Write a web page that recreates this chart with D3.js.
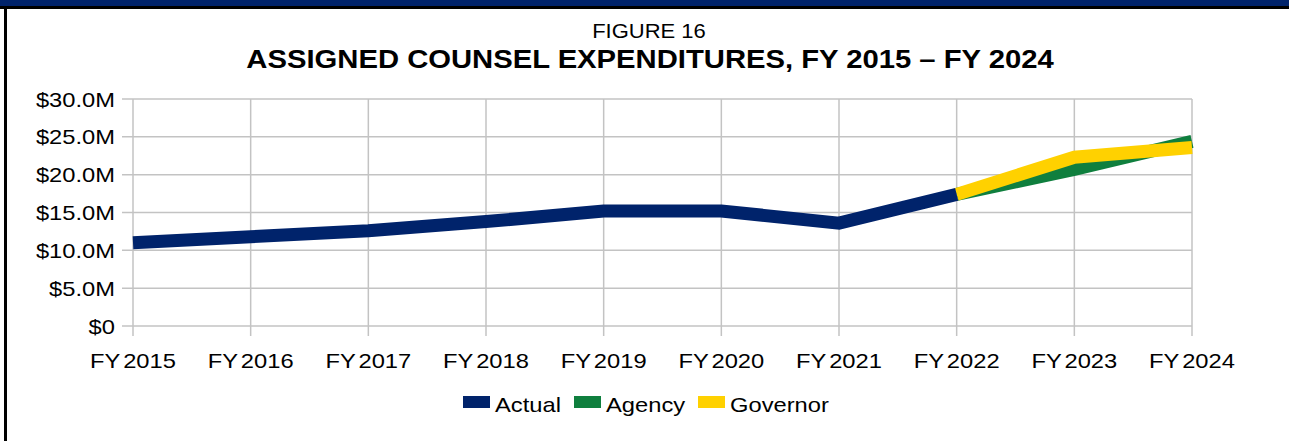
<!DOCTYPE html>
<html>
<head>
<meta charset="utf-8">
<script src="https://cdn.jsdelivr.net/npm/d3@7"></script>
<style>
    body { margin: 0; background: #fff; }
    svg { display: block; font-family: "Liberation Sans", Arial, sans-serif; }
</style>
</head>
<body>
<svg id="chart"></svg>
<script>
// data ($ millions)
var years = ["FY 2015", "FY 2016", "FY 2017", "FY 2018", "FY 2019", "FY 2020", "FY 2021", "FY 2022", "FY 2023", "FY 2024"];
var actual = [11.0, 11.8, 12.6, 13.8, 15.2, 15.2, 13.6, 17.4, null, null];
var agency = [null, null, null, null, null, null, null, 17.4, 20.7, 24.4];
var governor = [null, null, null, null, null, null, null, 17.4, 22.3, 23.6];
var yTicks = [0, 5, 10, 15, 20, 25, 30];
var yTickLabels = ["$0", "$5.0M", "$10.0M", "$15.0M", "$20.0M", "$25.0M", "$30.0M"];

var seriesList = [
    { name: "Actual", values: actual, color: "#00236b" },
    { name: "Agency", values: agency, color: "#0f7f3e" },
    { name: "Governor", values: governor, color: "#ffd100" }
];

const width = 1289;
const height = 441;
const sx = 1.13; // text in the original is a bit wider than Arial

const svg = d3.select("#chart")
    .attr("width", width)
    .attr("height", height);

// frame: navy band on top, black rule, left border
svg.append("rect").attr("x", 0).attr("y", 0).attr("width", width).attr("height", 6).attr("fill", "#00236b");
svg.append("rect").attr("x", 0).attr("y", 6).attr("width", width).attr("height", 3).attr("fill", "#000");
svg.append("rect").attr("x", 4).attr("y", 6).attr("width", 3).attr("height", height - 6).attr("fill", "#000");

function stretched(g, px, py, scale) {
    return g.append("text").attr("transform", `translate(${px},${py}) scale(${scale},1)`);
}

// titles
stretched(svg, 649, 38, 1.1)
    .attr("text-anchor", "middle")
    .style("font-size", "20px")
    .text("FIGURE 16");
stretched(svg, 650, 68, 1.17)
    .attr("text-anchor", "middle")
    .style("font-size", "25px")
    .style("font-weight", "bold")
    .text("ASSIGNED COUNSEL EXPENDITURES, FY 2015 \u2013 FY 2024");

const x = d3.scalePoint().domain(years).range([133, 1192]);
const y = d3.scaleLinear().domain([0, 30]).range([326, 99]);

const grid = svg.append("g").attr("stroke", "#c3c3c3").attr("stroke-width", 1.5);

// horizontal gridlines + left ticks
grid.selectAll(".hg")
    .data(yTicks)
    .join("line")
    .attr("x1", 122).attr("x2", 1192)
    .attr("y1", d => y(d)).attr("y2", d => y(d));

// vertical gridlines + bottom ticks
grid.selectAll(".vg")
    .data(years)
    .join("line")
    .attr("x1", d => x(d)).attr("x2", d => x(d))
    .attr("y1", y(30)).attr("y2", 336);

// y labels
svg.append("g")
    .selectAll("text")
    .data(yTicks)
    .join("text")
    .attr("transform", d => `translate(115,${y(d)}) scale(${sx},1)`)
    .attr("dy", "0.36em")
    .attr("text-anchor", "end")
    .style("font-size", "21px")
    .text((d, i) => yTickLabels[i]);

// x labels
svg.append("g")
    .selectAll("text")
    .data(years)
    .join("text")
    .attr("transform", d => `translate(${x(d)},368) scale(${sx},1)`)
    .attr("text-anchor", "middle")
    .style("font-size", "21px")
    .style("word-spacing", "-3px")
    .text(d => d);

const line = d3.line()
    .defined(d => d.v != null)
    .x(d => x(d.year))
    .y(d => y(d.v));

// agency drawn under governor, actual last
[seriesList[1], seriesList[2], seriesList[0]].forEach(s => {
    svg.append("path")
        .datum(years.map((yr, i) => ({ year: yr, v: s.values[i] })))
        .attr("fill", "none")
        .attr("stroke", s.color)
        .attr("stroke-width", 13)
        .attr("stroke-linejoin", "miter")
        .attr("stroke-linecap", "butt")
        .attr("d", line);
});

// legend
const legendX = [463, 574, 698];
const legend = svg.append("g");
seriesList.forEach((s, i) => {
    legend.append("rect")
        .attr("x", legendX[i]).attr("y", 396)
        .attr("width", 27).attr("height", 12)
        .attr("fill", s.color);
    stretched(legend, legendX[i] + 32, 412, sx)
        .style("font-size", "21px")
        .text(s.name);
});
</script>
</body>
</html>
